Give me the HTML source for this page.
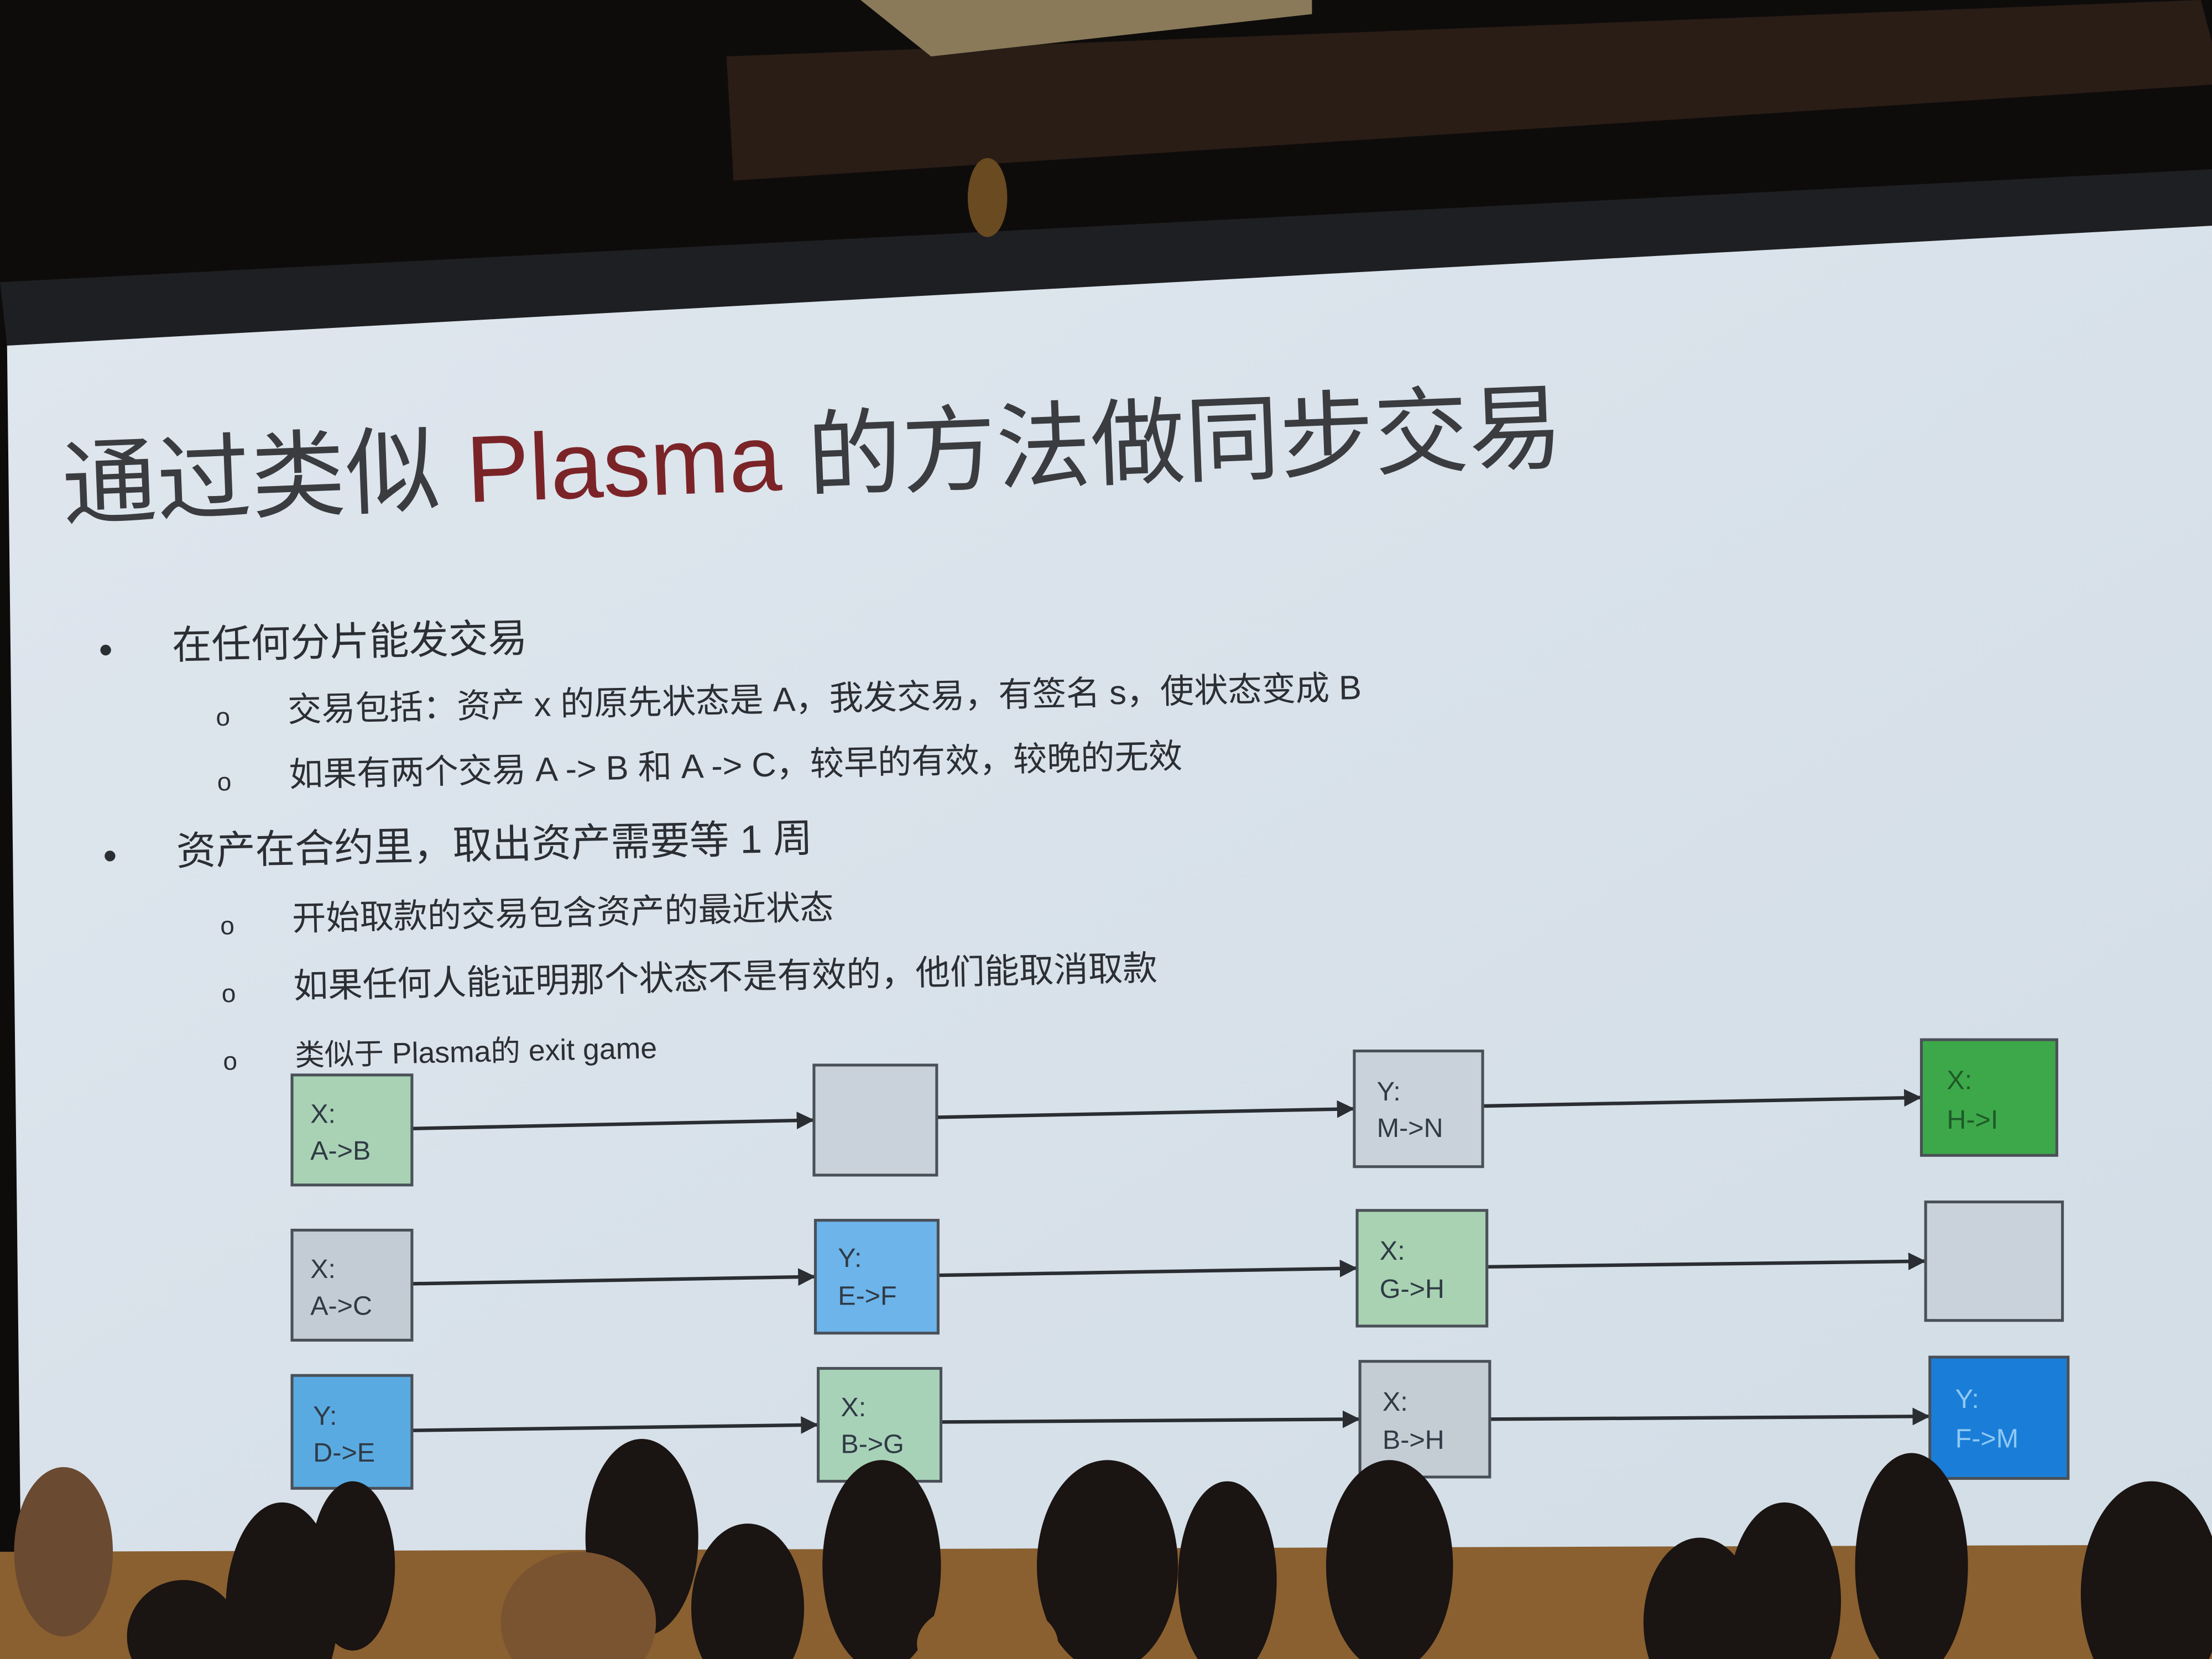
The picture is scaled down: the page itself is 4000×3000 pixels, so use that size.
<!DOCTYPE html>
<html><head><meta charset="utf-8"><style>
html,body{margin:0;padding:0;background:#0d0b0a;overflow:hidden}
svg{display:block}
text{font-family:"Liberation Sans","Noto Sans CJK SC",sans-serif}
</style></head><body>
<svg width="4000" height="3000" viewBox="0 0 1568 1176" preserveAspectRatio="none" xmlns="http://www.w3.org/2000/svg">
<defs>
<marker id="ar" viewBox="0 0 10 10" refX="9" refY="5" markerWidth="5" markerHeight="5" orient="auto"><path d="M0,0 L10,5 L0,10 z" fill="#2a2e33"/></marker>
<linearGradient id="scr" x1="0" y1="0" x2="1" y2="1"><stop offset="0" stop-color="#dfe6ee"/><stop offset="1" stop-color="#d2dde6"/></linearGradient>
</defs>
<rect width="1568" height="1176" fill="#0e0c0b"/>
<polygon points="515,40 1560,0 1568,30 1568,60 520,128" fill="#2a1d16"/>
<polygon points="610,0 930,0 930,10 660,40" fill="#8a7a5a"/>
<polygon points="0,200 1568,120 1568,165 5,245" fill="#1e1f22"/>
<ellipse cx="700" cy="140" rx="14" ry="28" fill="#6a4a20"/>
<polygon points="5,245 1568,160 1568,1115 15,1122" fill="url(#scr)"/>
<polygon points="0,1100 1568,1095 1568,1176 0,1176" fill="#8a6030"/>
<!-- title -->
<text x="45" y="367" font-size="67" fill="#3a3c40" transform="rotate(-2.2 45 367)">通过类似 <tspan fill="#7a2428">Plasma</tspan> 的方法做同步交易</text>
<g fill="#2b2e33" transform="rotate(-1.2 80 460)">
<text x="70" y="470" font-size="28">•</text>
<text x="122" y="468" font-size="28">在任何分片能发交易</text>
<text x="152" y="516" font-size="18">o</text>
<text x="203" y="514" font-size="24">交易包括：资产 x 的原先状态是 A，我发交易，有签名 s，使状态变成 B</text>
<text x="152" y="562" font-size="18">o</text>
<text x="203" y="560" font-size="24">如果有两个交易 A -&gt; B 和 A -&gt; C，较早的有效，较晚的无效</text>
<text x="70" y="616" font-size="28">•</text>
<text x="122" y="614" font-size="28">资产在合约里，取出资产需要等 1 周</text>
<text x="152" y="664" font-size="18">o</text>
<text x="203" y="662" font-size="24">开始取款的交易包含资产的最近状态</text>
<text x="152" y="712" font-size="18">o</text>
<text x="203" y="710" font-size="24.5">如果任何人能证明那个状态不是有效的，他们能取消取款</text>
<text x="152" y="760" font-size="18">o</text>
<text x="203" y="758" font-size="21">类似于 Plasma的 exit game</text>
</g>
<!-- arrows -->
<g stroke="#2a2e33" stroke-width="2.5" marker-end="url(#ar)">
<line x1="292" y1="800" x2="576" y2="794"/>
<line x1="664" y1="792" x2="959" y2="786"/>
<line x1="1052" y1="784" x2="1361" y2="778"/>
<line x1="292" y1="910" x2="577" y2="905"/>
<line x1="666" y1="904" x2="961" y2="899"/>
<line x1="1055" y1="898" x2="1364" y2="894"/>
<line x1="292" y1="1014" x2="579" y2="1010"/>
<line x1="667" y1="1008" x2="963" y2="1006"/>
<line x1="1057" y1="1006" x2="1367" y2="1004"/>
</g>
<g stroke="#4a5058" stroke-width="2" font-size="19">
<rect x="207" y="762" width="85" height="78" fill="#a9d2b4"/>
<rect x="577" y="755" width="87" height="78" fill="#c9d2da"/>
<rect x="960" y="745" width="91" height="82" fill="#c9d2da"/>
<rect x="1362" y="737" width="96" height="82" fill="#3da84a"/>
<rect x="207" y="872" width="85" height="78" fill="#c3ccd4"/>
<rect x="578" y="865" width="87" height="80" fill="#6cb4ea"/>
<rect x="962" y="858" width="92" height="82" fill="#a8d2b2"/>
<rect x="1365" y="852" width="97" height="84" fill="#c9d2da"/>
<rect x="207" y="975" width="85" height="80" fill="#5aaae2"/>
<rect x="580" y="970" width="87" height="80" fill="#a8d2b8"/>
<rect x="964" y="965" width="92" height="82" fill="#c4ccd4"/>
<rect x="1368" y="962" width="98" height="86" fill="#1a7ed8"/>
</g>
<g fill="#2f3a45" font-size="19">
<text x="220" y="796">X:</text><text x="220" y="822">A-&gt;B</text>
<text x="976" y="780">Y:</text><text x="976" y="806">M-&gt;N</text>
<text x="1380" y="772" fill="#1e5a28">X:</text><text x="1380" y="800" fill="#1e5a28">H-&gt;I</text>
<text x="220" y="906">X:</text><text x="220" y="932">A-&gt;C</text>
<text x="594" y="898">Y:</text><text x="594" y="925">E-&gt;F</text>
<text x="978" y="893">X:</text><text x="978" y="920">G-&gt;H</text>
<text x="222" y="1010">Y:</text><text x="222" y="1036">D-&gt;E</text>
<text x="596" y="1004">X:</text><text x="596" y="1030">B-&gt;G</text>
<text x="980" y="1000">X:</text><text x="980" y="1027">B-&gt;H</text>
<text x="1386" y="998" fill="#8ec8f4">Y:</text><text x="1386" y="1026" fill="#8ec8f4">F-&gt;M</text>
</g>
<!-- audience -->
<g fill="#1a1412">
<ellipse cx="45" cy="1100" rx="35" ry="60" fill="#6a4a30"/>
<ellipse cx="200" cy="1140" rx="40" ry="75"/>
<ellipse cx="250" cy="1110" rx="30" ry="60"/>
<ellipse cx="455" cy="1090" rx="40" ry="70"/>
<ellipse cx="410" cy="1150" rx="55" ry="50" fill="#7a5430"/>
<ellipse cx="530" cy="1140" rx="40" ry="60"/>
<ellipse cx="625" cy="1110" rx="42" ry="75"/>
<ellipse cx="785" cy="1110" rx="50" ry="75"/>
<ellipse cx="870" cy="1120" rx="35" ry="70"/>
<ellipse cx="985" cy="1110" rx="45" ry="75"/>
<ellipse cx="1205" cy="1150" rx="40" ry="60"/>
<ellipse cx="1265" cy="1135" rx="40" ry="70"/>
<ellipse cx="1355" cy="1110" rx="40" ry="80"/>
<ellipse cx="1525" cy="1130" rx="50" ry="80"/>
<ellipse cx="130" cy="1160" rx="40" ry="40"/>
<ellipse cx="700" cy="1165" rx="50" ry="30" fill="#8a6030"/>
</g>
</svg>
</body></html>
